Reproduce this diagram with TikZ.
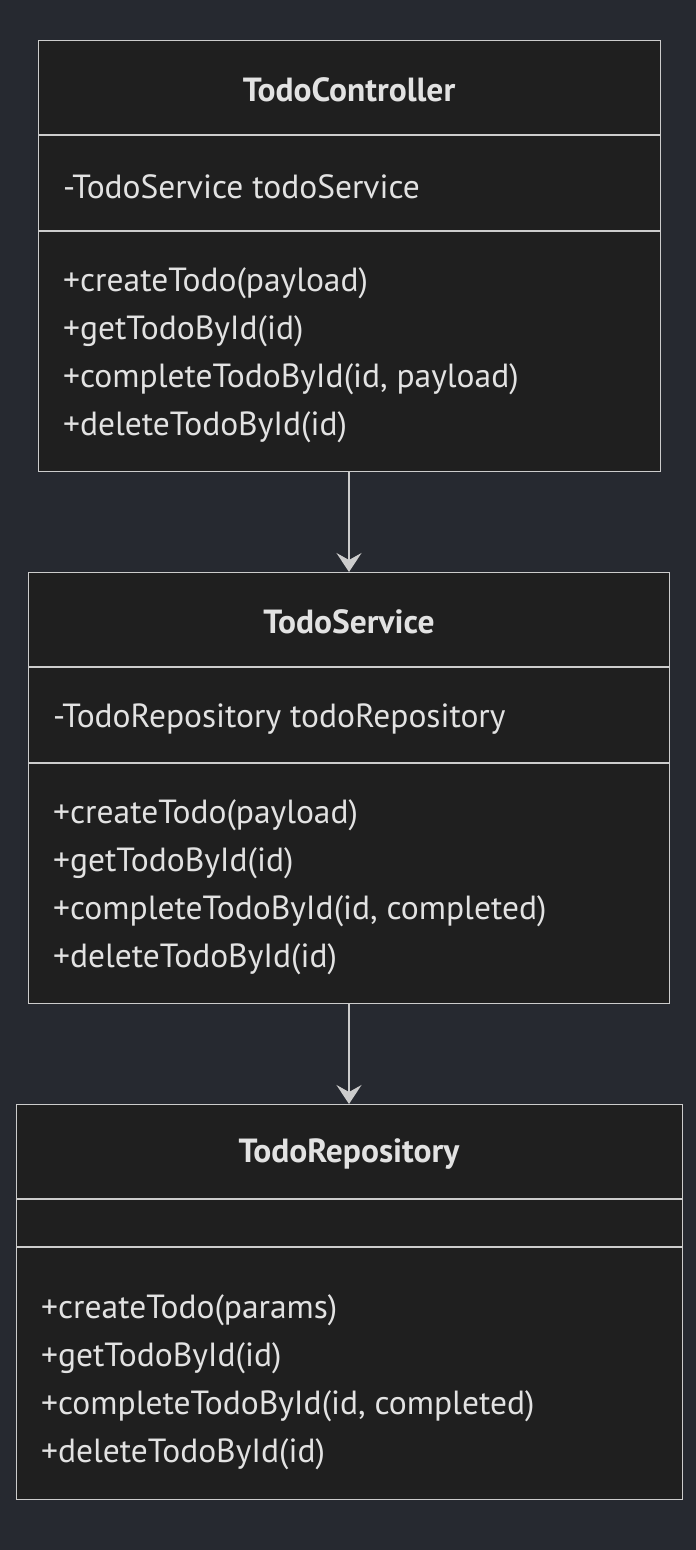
\documentclass[tikz,border=0pt]{standalone}
\usepackage{fontspec}
\setmainfont{PT Sans}
\usetikzlibrary{arrows.meta}
\definecolor{bgcol}{RGB}{38,41,48}
\definecolor{boxcol}{RGB}{31,31,31}
\definecolor{linecol}{RGB}{204,204,204}
\definecolor{txtcol}{RGB}{226,226,226}

\begin{document}
\begin{tikzpicture}[
      x=1pt, y=-1pt,
      classbox/.style={rectangle, draw=linecol, fill=boxcol, line width=1.4pt, anchor=north west, inner sep=0pt},
      title/.style={text=txtcol, font=\fontsize{33.5}{40}\selectfont\bfseries, yshift=-2pt},
      member/.style={text=txtcol, font=\fontsize{33.5}{40}\selectfont, anchor=west, inner sep=0pt, yshift=-3pt},
      link/.style={draw=linecol, line width=1.4pt, -{Stealth[length=19pt, width=25pt, inset=7pt]}}
    ]
    \fill[bgcol] (0,0) rectangle (696,1550);
    % TodoController
    \node[classbox, minimum width=622pt, minimum height=431pt] (ctrl) at (38,40) {};
    \draw[linecol, line width=1.4pt] (38,135) -- (660,135) (38,231) -- (660,231);
    \node[title] (ctrlname) at (349,88) {TodoController};
    \node[member] (ctrlattr) at (63,184) {-TodoService todoService};
    \node[member] (ctrlm1) at (63,280) {+createTodo(payload)};
    \node[member] (ctrlm2) at (63,328) {+getTodoById(id)};
    \node[member] (ctrlm3) at (63,376) {+completeTodoById(id, payload)};
    \node[member] (ctrlm4) at (63,424) {+deleteTodoById(id)};
    % TodoService
    \node[classbox, minimum width=641pt, minimum height=431pt] (serv) at (28,572) {};
    \draw[linecol, line width=1.4pt] (28,667) -- (669,667) (28,763) -- (669,763);
    \node[title] (servname) at (349,620) {TodoService};
    \node[member] (servattr) at (53,716) {-TodoRepository todoRepository};
    \node[member] (servm1) at (53,812) {+createTodo(payload)};
    \node[member] (servm2) at (53,860) {+getTodoById(id)};
    \node[member] (servm3) at (53,908) {+completeTodoById(id, completed)};
    \node[member] (servm4) at (53,956) {+deleteTodoById(id)};
    % TodoRepository
    \node[classbox, minimum width=666pt, minimum height=395pt] (repo) at (16,1104) {};
    \draw[linecol, line width=1.4pt] (16,1199) -- (682,1199) (16,1247) -- (682,1247);
    \node[title] (reponame) at (349,1152) {TodoRepository};
    \node[member] (repom1) at (41,1307) {+createTodo(params)};
    \node[member] (repom2) at (41,1355) {+getTodoById(id)};
    \node[member] (repom3) at (41,1403) {+completeTodoById(id, completed)};
    \node[member] (repom4) at (41,1451) {+deleteTodoById(id)};
    % links
    \draw[link] (ctrl.south -| ctrlname) -- (serv.north -| servname);
    \draw[link] (serv.south -| servname) -- (repo.north -| reponame);
\end{tikzpicture}
\end{document}
